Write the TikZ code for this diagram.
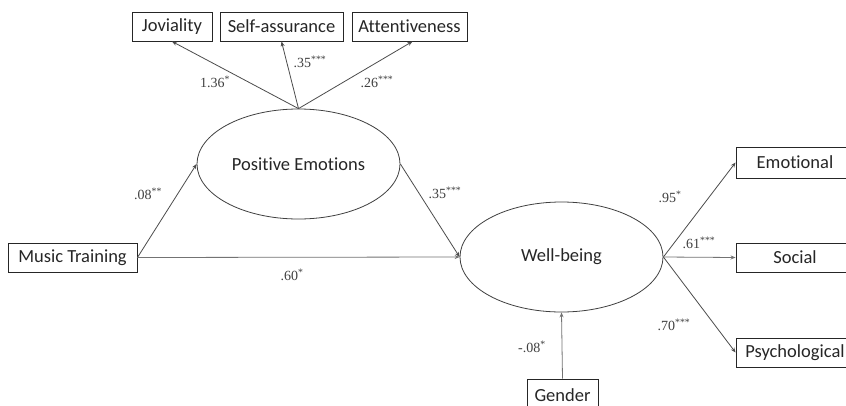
\documentclass[tikz,border=0pt]{standalone}
\usepackage{fontspec}
\setmainfont{Carlito}[Ligatures=NoCommon]
\newfontfamily\numfont{Liberation Serif}
\usetikzlibrary{shapes.geometric,arrows.meta}
\begin{document}
\begin{tikzpicture}[x=1pt,y=-1pt,
  box/.style={draw=black!85,line width=0.9pt,rectangle,inner sep=0pt,font=\fontsize{18.5}{20}\selectfont,text=black!85},
  ell/.style={draw=black!75,line width=0.8pt,ellipse,inner sep=0pt,font=\fontsize{18.5}{20}\selectfont,text=black!85},
  arr/.style={draw=black!70,line width=0.8pt,-{Stealth[length=5pt,width=4pt]}},
  coef/.style={font=\numfont\fontsize{14}{16}\selectfont,text=black!75,inner sep=0pt}]
\useasboundingbox (0,0) rectangle (846,405);
\clip (0,0) rectangle (846,405);
\fill[white] (0,0) rectangle (846,405);
% observed indicators
\node[box,minimum width=80pt,minimum height=29pt] (jov) at (172,26.5) {Joviality};
\node[box,minimum width=123pt,minimum height=29pt] (self) at (281.5,26.5) {Self-assurance};
\node[box,minimum width=115pt,minimum height=29pt] (att) at (409.5,26.5) {Attentiveness};
\node[box,minimum width=129pt,minimum height=29pt] (mt) at (72.5,257.5) {Music Training};
\node[box,minimum width=118pt,minimum height=31pt] (emo) at (795,162.5) {Emotional};
\node[box,minimum width=118pt,minimum height=29pt] (soc) at (795,257.5) {Social};
\node[box,minimum width=118pt,minimum height=29pt] (psy) at (795,352.5) {Psychological};
\node[box,minimum width=71pt,minimum height=32pt] (gen) at (562.5,395) {Gender};
% latent
\node[ell,minimum width=203pt,minimum height=110pt] (pe) at (298.5,164) {Positive Emotions};
\node[ell,minimum width=203pt,minimum height=110pt] (wb) at (561.5,257) {Well-being};
% paths
\draw[arr] (pe.north) -- (jov.south);
\draw[arr] (pe.north) -- (self.south);
\draw[arr] (pe.north) -- ([xshift=3pt]att.south);
\draw[arr] (mt.east) -- (pe.west);
\draw[arr,draw=black!55] (mt.east) -- (wb.west);
\draw[arr] (pe.east) -- (wb.west);
\draw[arr] (wb.east) -- (emo.west);
\draw[arr,draw=black!55] (wb.east) -- (soc.west);
\draw[arr] (wb.east) -- (psy.west);
\draw[arr,draw=black!55] (gen.north) -- (wb.south);
% coefficients
\node[coef] (c1) at (215,82) {1.36\textsuperscript{*}};
\node[coef] (c2) at (310,62) {.35\textsuperscript{***}};
\node[coef] (c3) at (377,82) {.26\textsuperscript{***}};
\node[coef] (c4) at (148,194) {.08\textsuperscript{**}};
\node[coef] (c5) at (445,193) {.35\textsuperscript{***}};
\node[coef] (c6) at (292,275) {.60\textsuperscript{*}};
\node[coef] (c7) at (670,197) {.95\textsuperscript{*}};
\node[coef] (c8) at (699,243) {.61\textsuperscript{***}};
\node[coef] (c9) at (674,325) {.70\textsuperscript{***}};
\node[coef] (c10) at (532,347) {-.08\textsuperscript{*}};
\end{tikzpicture}
\end{document}
